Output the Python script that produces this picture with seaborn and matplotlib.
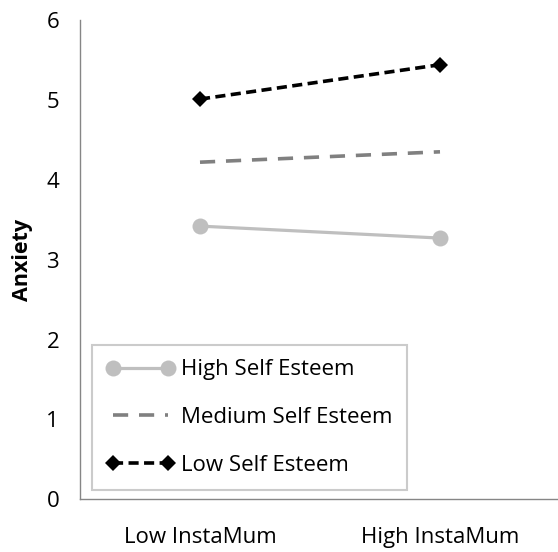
import matplotlib
matplotlib.use("Agg")
import matplotlib.pyplot as plt
import seaborn as sns
import pandas as pd

categorias = ["Low InstaMum", "High InstaMum"]
series = ["High Self Esteem", "Medium Self Esteem", "Low Self Esteem"]
alta_autoestima = [3.42, 3.27]
media_autoestima = [4.22, 4.35]
baja_autoestima = [5.01, 5.44]
y_ticks = [0, 1, 2, 3, 4, 5, 6]

sns.set_theme(style="white")
plt.rcParams["font.family"] = ["Open Sans", "DejaVu Sans"]
plt.rcParams["text.color"] = "black"
plt.rcParams["axes.labelcolor"] = "black"
plt.rcParams["xtick.labelcolor"] = "black"
plt.rcParams["ytick.labelcolor"] = "black"

df = pd.DataFrame({
    "x": categorias * 3,
    "pos": [0, 1] * 3,
    "y": alta_autoestima + media_autoestima + baja_autoestima,
    "serie": [s for s in series for _ in categorias],
})

fig = plt.figure(figsize=(5.58, 5.52), dpi=100)
ax = fig.add_axes([80 / 558, 52.7 / 552, 480 / 558, 479.3 / 552])

estilos = {
    "High Self Esteem": dict(color="#BFBFBF", lw=2.3, marker="o", ms=11.5, dashes=(None, None)),
    "Medium Self Esteem": dict(color="#808080", lw=2.6, marker=None, ms=0, dashes=(4.2, 3.0)),
    "Low Self Esteem": dict(color="#000000", lw=2.6, marker="D", ms=8.5, dashes=(2.8, 1.5)),
}

for s in series:
    st = estilos[s]
    sub = df[df["serie"] == s]
    kw = dict(x="pos", y="y", data=sub, ax=ax, color=st["color"], linewidth=st["lw"],
              label=s, markeredgewidth=0)
    if st["marker"]:
        kw["marker"] = st["marker"]
        kw["markersize"] = st["ms"]
    line = sns.lineplot(**kw).lines[-1]
    if st["dashes"][0] is not None:
        line.set_dashes(st["dashes"])

ax.set_xlim(-0.5, 1.5)
ax.set_ylim(0, 6)
ax.set_yticks(y_ticks)
ax.set_yticklabels([str(t) for t in y_ticks], fontsize=16)
ax.set_xticks([-0.5, 0.5, 1.5])
ax.set_xticklabels([])
ax.set_xticks([0, 1], minor=True)
ax.set_xticklabels(categorias, minor=True, fontsize=16)
ax.tick_params(axis="x", which="minor", length=0, pad=20)
ax.tick_params(axis="x", which="major", length=8, width=1, color="#868686", direction="out")
ax.tick_params(axis="y", length=8, width=1, color="#868686", direction="out", pad=7)
ax.set_xlabel("")
ax.set_ylabel("Anxiety", fontsize=15.5, fontweight="bold", labelpad=10)

for lado in ["top", "right"]:
    ax.spines[lado].set_visible(False)
for lado in ["left", "bottom"]:
    ax.spines[lado].set_color("#868686")
    ax.spines[lado].set_linewidth(1)

leg = ax.legend(loc="lower left", bbox_to_anchor=(0.025, 0.019), borderaxespad=0,
                numpoints=2, handlelength=3.05, handletextpad=0.3, fontsize=16,
                fancybox=False, frameon=True, labelspacing=1.2, borderpad=0.65,
                edgecolor="#BFBFBF")
leg.get_frame().set_linewidth(1.5)

fig.savefig("out.png", dpi=100)
